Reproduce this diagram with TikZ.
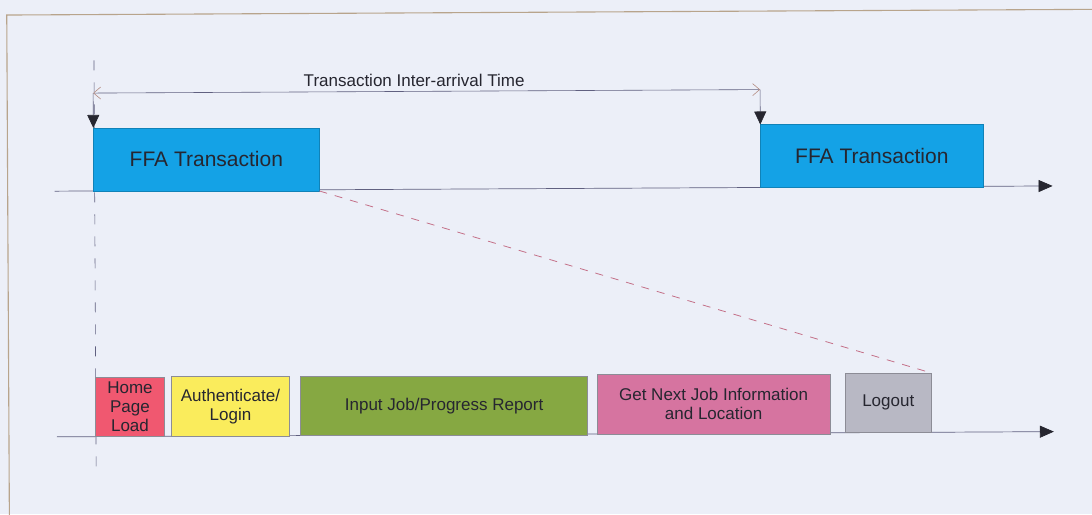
\documentclass[tikz,border=0pt]{standalone}
\usepackage{fontspec}
\setmainfont{Liberation Sans}
\usetikzlibrary{arrows.meta}
\definecolor{paper}{RGB}{236,239,248}
\definecolor{framec}{RGB}{184,164,140}
\definecolor{ink}{RGB}{38,38,48}
\definecolor{axisc}{RGB}{96,96,128}
\definecolor{tipc}{RGB}{180,140,130}
\definecolor{linkc}{RGB}{196,112,136}
\definecolor{ffablue}{RGB}{20,162,230}
\definecolor{homec}{RGB}{240,88,112}
\definecolor{authc}{RGB}{250,236,92}
\definecolor{inputc}{RGB}{134,168,66}
\definecolor{nextc}{RGB}{214,116,160}
\definecolor{logoutc}{RGB}{184,184,196}
\definecolor{edgec}{RGB}{140,140,150}
\begin{document}
\begin{tikzpicture}[x=1pt,y=-1pt,
  box/.style={draw=edgec, line width=0.5pt, inner sep=0pt, outer sep=0pt,
    anchor=north west, align=center, text=ink,
    font=\fontsize{17}{19}\selectfont},
  ffabox/.style={box, fill=ffablue, draw=ffablue!80!black, minimum width=#1,
    minimum height=63, font=\fontsize{21}{24}\selectfont},
  stagebox/.style={box, minimum height=59.7},
  timeline/.style={draw=axisc, line width=0.7pt,
    -{Triangle[length=14pt,width=12pt,color=ink]}},
  dimline/.style={draw=axisc, line width=0.6pt,
    {Straight Barb[length=7pt,width=12pt,color=tipc]}-{Straight Barb[length=7pt,width=12pt,color=tipc]}},
  droparrow/.style={draw=axisc, line width=0.6pt,
    -{Triangle[length=13pt,width=12pt,color=ink]}},
  guide/.style={draw=axisc, line width=0.6pt, dash pattern=on 10pt off 12pt},
  zoomlink/.style={draw=linkc, line width=0.8pt, dash pattern=on 8pt off 8pt}]

\useasboundingbox (0,0) rectangle (1092,514);
\clip (0,0) rectangle (1092,514);
\fill[paper] (0,0) rectangle (1092,514);

\begin{scope}[rotate around={0.3:(546,257)}]
  % page frame
  \draw[framec, line width=1.1pt] (8,540) -- (8,12.2) -- (1110,12.2);

  % start-of-transaction guide
  \draw[guide] (95,58) -- (95,476);

  % timelines
  \coordinate (topL) at (55,188.6);
  \coordinate (topR) at (1053,188.6);
  \coordinate (botL) at (56,434.3);
  \coordinate (botR) at (1053,434.3);
  \draw[timeline] (topL) -- (topR);
  \draw[timeline] (botL) -- (botR);

  % transactions
  \node[ffabox=226] (ffa1) at (94,125.6) {FFA Transaction};
  \node[ffabox=223] (ffa2) at (761,125.6) {FFA Transaction};

  % inter-arrival time
  \coordinate (dimL) at (94,90.7);
  \coordinate (dimR) at (761,90.7);
  \draw[dimline] (dimL) -- (dimR);
  \node[anchor=base, text=ink, font=\fontsize{17}{19}\selectfont] (iat)
    at (415,85.5) {Transaction Inter-arrival Time};
  \draw[droparrow] (dimL) -- (ffa1.north west);
  \draw[droparrow] (dimR) -- (ffa2.north west);

  % stages of one transaction
  \node[stagebox, fill=homec, minimum width=68.7] (home) at (95,374.6) {Home\\Page\\Load};
  \node[stagebox, fill=authc, minimum width=117.7] (auth) at (171,374.6) {Authenticate/\\Login};
  \node[stagebox, fill=inputc, minimum width=287] (input) at (300,374.6) {Input Job/Progress Report};
  \node[stagebox, fill=nextc, minimum width=232.6] (next) at (596.7,374.6) {Get Next Job Information\\and Location};
  \node[stagebox, fill=logoutc, minimum width=86.7] (logout) at (844.3,374.6) {Logout};

  % zoom link from the first transaction to its stages
  \draw[zoomlink] (ffa1.south east) -- (logout.north east);
\end{scope}
\end{tikzpicture}
\end{document}
